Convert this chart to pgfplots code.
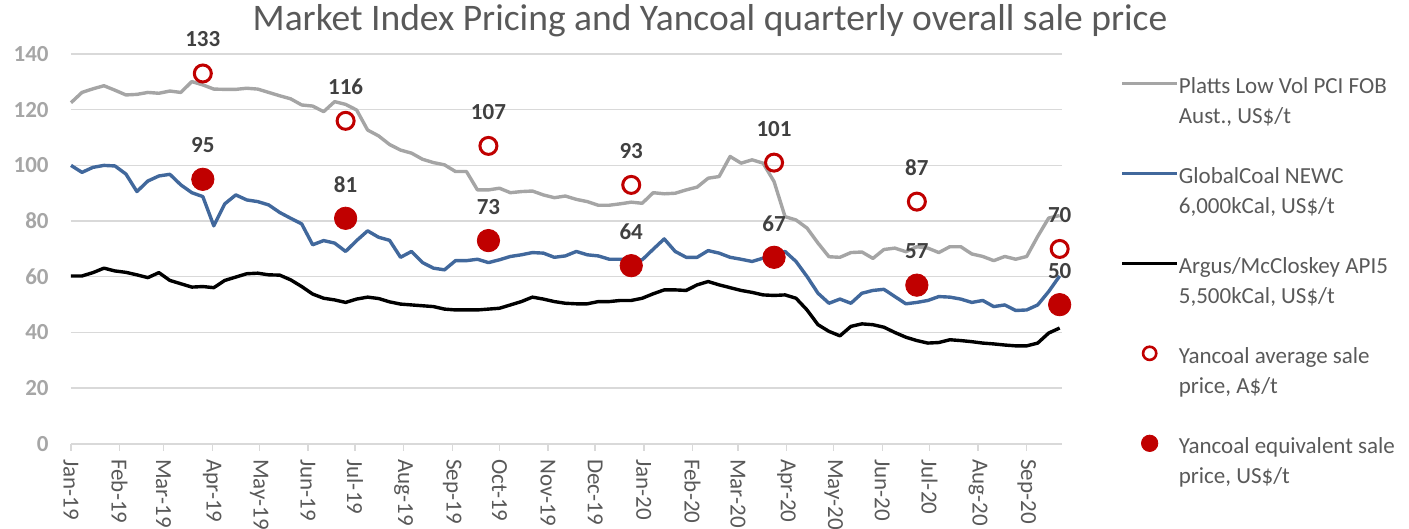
\documentclass[border=0pt]{standalone}
\usepackage{fontspec}
\setmainfont{Carlito}
\usepackage{pgfplots}
\usepackage{pgfplotstable}
\pgfplotsset{compat=1.18}
\definecolor{plattsgray}{HTML}{A5A5A5}
\definecolor{newcblue}{HTML}{41689C}
\definecolor{yanred}{HTML}{C00000}
\definecolor{gridgray}{HTML}{D9D9D9}
\definecolor{labgray}{HTML}{A6A6A6}
\definecolor{txtgray}{HTML}{595959}
\definecolor{darklab}{HTML}{404040}

\pgfplotsset{
  lineleg/.style={legend image code/.code={\draw[##1] (0pt,8.2pt) -- (27.5pt,8.2pt);}},
  openleg/.style={legend image code/.code={\draw[##1, mark size=3.3pt, mark options={draw=yanred, line width=1.3pt}] plot coordinates {(13.75pt,8.2pt)};}},
  fillleg/.style={legend image code/.code={\draw[##1, mark size=4.1pt] plot coordinates {(13.75pt,8.2pt)};}},
}

\pgfplotstableread{
x y
0 122.5
7 126.2
14 127.5
21 128.6
28 127.0
35 125.3
42 125.5
49 126.2
56 125.9
63 126.7
70 126.2
77 130.1
84 128.9
91 127.4
98 127.3
105 127.3
112 127.7
119 127.4
126 126.2
133 125.0
140 123.9
147 121.7
154 121.3
161 119.3
168 122.9
175 121.9
182 119.9
189 112.7
196 110.6
203 107.5
210 105.5
217 104.4
224 102.2
231 101.0
238 100.2
245 97.8
252 97.8
259 91.2
266 91.2
273 91.8
280 90.2
287 90.6
294 90.8
301 89.4
308 88.4
315 89.0
322 87.8
329 87.0
336 85.7
343 85.7
350 86.2
357 86.8
364 86.4
371 90.2
378 89.8
385 90.0
392 91.2
399 92.2
406 95.4
413 96.0
420 103.2
427 100.8
434 102.0
441 100.8
448 94.2
455 81.6
462 80.4
469 77.5
476 72.1
483 67.2
490 67.0
497 68.7
504 68.9
511 66.6
518 69.8
525 70.3
532 69.0
539 70.8
546 70.3
553 68.7
560 70.8
567 70.8
574 68.2
581 67.3
588 65.8
595 67.3
602 66.3
609 67.3
616 74.5
623 81.1
630 82.0
}\platts

\pgfplotstableread{
x y
0 100.0
7 97.5
14 99.3
21 100.0
28 99.8
35 96.9
42 90.6
49 94.4
56 96.2
63 96.8
70 93.0
77 90.2
84 88.8
91 78.3
98 86.2
105 89.4
112 87.6
119 87.0
126 85.8
133 83.1
140 81.0
147 79.0
154 71.5
161 73.0
168 72.1
175 69.1
182 73.0
189 76.5
196 74.2
203 73.1
210 67.0
217 69.1
224 65.1
231 63.1
238 62.5
245 65.8
252 65.8
259 66.3
266 65.1
273 66.1
280 67.3
287 67.9
294 68.7
301 68.5
308 67.0
315 67.5
322 69.1
329 67.9
336 67.5
343 66.3
350 66.3
357 66.3
364 66.1
371 69.9
378 73.6
385 69.1
392 67.0
399 67.0
406 69.4
413 68.5
420 67.0
427 66.3
434 65.5
441 66.7
448 67.5
455 69.1
462 65.5
469 60.1
476 54.1
483 50.5
490 52.0
497 50.5
504 54.1
511 55.1
518 55.5
525 52.9
532 50.3
539 50.8
546 51.5
553 52.9
560 52.7
567 52.0
574 50.8
581 51.5
588 49.3
595 49.9
602 47.9
609 48.1
616 49.9
623 54.7
630 60.3
}\newc

\pgfplotstableread{
x y
0 60.3
7 60.3
14 61.5
21 63.1
28 62.1
35 61.6
42 60.7
49 59.7
56 61.5
63 58.7
70 57.5
77 56.3
84 56.5
91 56.1
98 58.7
105 59.9
112 61.1
119 61.3
126 60.7
133 60.6
140 58.9
147 56.5
154 53.8
161 52.3
168 51.7
175 50.8
182 52.0
189 52.7
196 52.2
203 51.0
210 50.2
217 49.9
224 49.6
231 49.3
238 48.4
245 48.1
252 48.1
259 48.1
266 48.4
273 48.7
280 49.9
287 51.1
294 52.7
301 52.0
308 51.1
315 50.5
322 50.3
329 50.3
336 51.1
343 51.1
350 51.5
357 51.5
364 52.3
371 53.9
378 55.3
385 55.3
392 55.1
399 57.1
406 58.3
413 57.1
420 56.1
427 55.1
434 54.4
441 53.5
448 53.3
455 53.5
462 52.3
469 48.1
476 42.8
483 40.4
490 38.8
497 42.2
504 43.1
511 42.8
518 41.9
525 40.0
532 38.3
539 37.1
546 36.2
553 36.4
560 37.4
567 37.1
574 36.7
581 36.2
588 35.9
595 35.5
602 35.2
609 35.2
616 36.2
623 39.8
630 41.6
}\api

\pgfplotstableread{
x y
84 133
175 116
266 107
357 93
448 101
539 87
630 70
}\yanaud

\pgfplotstableread{
x y
84 95
175 81
266 73
357 64
448 67
539 57
630 50
}\yanusd

\newcommand{\chartfont}{\fontsize{11.5}{15}\selectfont}

\begin{document}
\begin{tikzpicture}
\path[use as bounding box] (-35.5pt,-42.55pt) rectangle (669pt,221.95pt);
\begin{axis}[
  at={(0pt,0pt)}, anchor=south west,
  scale only axis, width=495.35pt, height=194.95pt,
  xmin=0, xmax=631.3, ymin=0, ymax=140,
  clip=false,
  axis lines*=left,
  x axis line style={gridgray, line width=0.7pt, -},
  y axis line style={draw=none},
  xtick={0,31,59,90,120,151,181,212,243,273,304,334,365,396,425,456,486,517,547,578,609},
  xticklabels={Jan-19,Feb-19,Mar-19,Apr-19,May-19,Jun-19,Jul-19,Aug-19,Sep-19,Oct-19,Nov-19,Dec-19,Jan-20,Feb-20,Mar-20,Apr-20,May-20,Jun-20,Jul-20,Aug-20,Sep-20},
  ytick={0,20,...,140},
  ymajorgrids,
  grid style={gridgray, line width=0.7pt},
  tick align=outside,
  major tick length=3.5pt,
  xtick style={gridgray, line width=0.7pt},
  ytick style={draw=none},
  /pgf/number format/assume math mode=true,
  xticklabel shift=4pt,
  xticklabel style={rotate=-90, anchor=west, font=\chartfont, text=txtgray, inner sep=0pt},
  yticklabel style={anchor=east, font=\chartfont\bfseries, text=labgray, inner sep=0pt, xshift=-7.5pt},
  title={Market Index Pricing and Yancoal quarterly overall sale price},
  title style={at={(0.645,1)}, anchor=base, yshift=5.5pt, font=\fontsize{18.75}{22}\selectfont, text=txtgray, inner sep=0pt},
  legend cell align=left,
  legend style={at={(1.0589,0.953)}, anchor=north west, draw=none, fill=none, inner sep=0pt,
    font=\chartfont, text=txtgray, row sep=18pt,
    cells={align=left},
    nodes={inner sep=0pt},
    /tikz/every odd column/.append style={column sep=0pt}},
  every node near coord/.append style={font=\chartfont\bfseries, text=darklab, inner sep=0pt},
]
\addplot[plattsgray, line width=1.7pt, line join=round, lineleg] table {\platts};
\addlegendentry{\strut Platts Low Vol PCI FOB\\\strut Aust., US\$/t}
\addplot[newcblue, line width=1.7pt, line join=round, lineleg] table {\newc};
\addlegendentry{\strut GlobalCoal NEWC\\\strut 6,000kCal, US\$/t}
\addplot[black, line width=1.7pt, line join=round, lineleg] table {\api};
\addlegendentry{\strut Argus/McCloskey API5\\\strut 5,500kCal, US\$/t}
\addplot[only marks, mark=o, mark size=4.25pt, mark options={draw=yanred, line width=1.5pt},
  point meta=y, nodes near coords={\pgfmathprintnumber[fixed,precision=0]{\pgfplotspointmeta}},
  nodes near coords style={anchor=center, yshift=17pt}, openleg] table {\yanaud};
\addlegendentry{\strut Yancoal average sale\\\strut price, A\$/t}
\addplot[only marks, mark=*, mark size=5.6pt, mark options={draw=yanred, fill=yanred},
  point meta=y, nodes near coords={\pgfmathprintnumber[fixed,precision=0]{\pgfplotspointmeta}},
  nodes near coords style={anchor=center, yshift=17pt}, fillleg] table {\yanusd};
\addlegendentry{\strut Yancoal equivalent sale\\\strut price, US\$/t}
\end{axis}
\end{tikzpicture}
\end{document}
